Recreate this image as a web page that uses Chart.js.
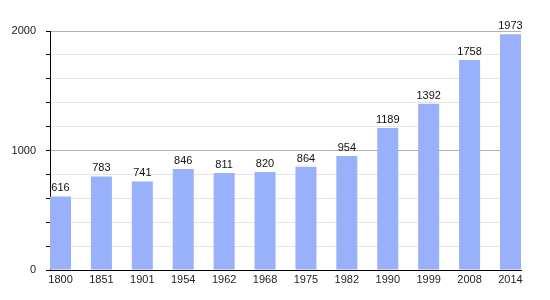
<!DOCTYPE html>
<html>
<head>
<meta charset="utf-8">
<script src="https://cdn.jsdelivr.net/npm/chart.js@4"></script>
<style>
  html, body { margin: 0; padding: 0; background: #fff; }
</style>
</head>
<body>
<canvas id="chart" width="550" height="300"></canvas>
<script>
const years = ['1800', '1851', '1901', '1954', '1962', '1968', '1975', '1982', '1990', '1999', '2008', '2014'];
const population = [616, 783, 741, 846, 811, 820, 864, 954, 1189, 1392, 1758, 1973];
const yMin = 0;
const yMax = 2000;
const yStep = 200;
const yLabelEvery = 1000;

const font = { family: "'Liberation Sans', Arial, sans-serif", size: 11 };

// numbers over the bars
const valueLabels = {
    id: 'valueLabels',
    afterDatasetsDraw(chart) {
        const ctx = chart.ctx;
        const meta = chart.getDatasetMeta(0);
        ctx.save();
        ctx.font = font.size + 'px ' + font.family;
        ctx.fillStyle = '#111';
        ctx.textAlign = 'center';
        ctx.textBaseline = 'alphabetic';
        meta.data.forEach((bar, i) => {
            ctx.fillText(String(population[i]), bar.x, bar.y - 5);
        });
        ctx.restore();
    }
};

new Chart(document.getElementById('chart'), {
    type: 'bar',
    data: {
        datasets: [{
            data: population.map((v, i) => ({ x: i, y: v })),
            backgroundColor: '#99b0fb',
            borderWidth: 0,
            barPercentage: 1,
            categoryPercentage: 0.514
        }]
    },
    options: {
        responsive: false,
        animation: false,
        devicePixelRatio: 1,
        layout: { padding: { top: 31, right: 29, left: 0, bottom: 0 } },
        plugins: {
            legend: { display: false },
            tooltip: { enabled: false }
        },
        scales: {
            x: {
                type: 'linear',
                offset: false,
                min: -0.257,
                max: years.length - 1 + 0.257,
                afterBuildTicks: (scale) => {
                    scale.ticks = years.map((_, i) => ({ value: i }));
                },
                afterFit: (scale) => { scale.height = 30; },
                grid: { display: false, drawTicks: false, offset: false },
                border: { display: true, color: '#000', width: 1 },
                ticks: {
                    color: '#222',
                    font: font,
                    padding: 3,
                    autoSkip: false,
                    maxRotation: 0,
                    callback: (v) => years[v]
                }
            },
            y: {
                min: yMin,
                max: yMax,
                afterFit: (scale) => { scale.width = 50; },
                grid: {
                    color: (c) => c.tick && c.tick.value % yLabelEvery === 0 ? '#b0b0b0' : '#e6e6e6',
                    tickColor: '#000',
                    tickLength: 4,
                    drawTicks: true
                },
                border: { display: true, color: '#000', width: 1 },
                ticks: {
                    stepSize: yStep,
                    color: '#222',
                    font: font,
                    padding: 10,
                    autoSkip: false,
                    callback: (v) => v % yLabelEvery === 0 ? String(v) : ''
                }
            }
        }
    },
    plugins: [valueLabels]
});
</script>
</body>
</html>
